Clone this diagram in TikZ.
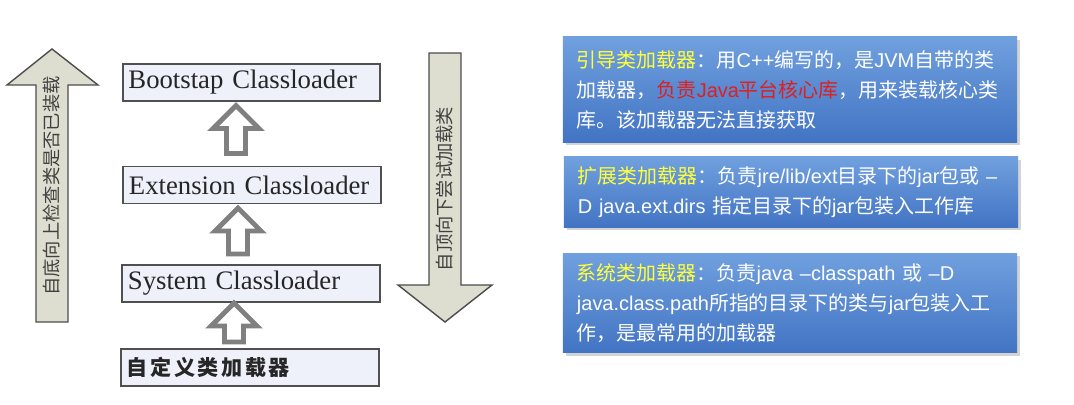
\documentclass[tikz,border=0pt]{standalone}
\usepackage{fontspec}
\setmainfont{Liberation Serif}
\newfontfamily\cjk{Noto Sans CJK SC}
\newfontfamily\cjkwide[LetterSpace=12]{Noto Sans CJK SC}
\newfontfamily\arial{Liberation Sans}
\usepackage{tikz}
\usetikzlibrary{calc, positioning, shadows}

\definecolor{loaderfill}{RGB}{238,240,250}
\definecolor{loaderline}{RGB}{80,80,80}
\definecolor{bigfill}{RGB}{222,222,208}
\definecolor{infotop}{RGB}{112,160,222}
\definecolor{infobottom}{RGB}{66,116,196}
\definecolor{labelyellow}{RGB}{255,255,60}
\definecolor{corered}{RGB}{225,30,30}

\begin{document}
\begin{tikzpicture}[x=0.025cm, y=-0.025cm,
    loader/.style={draw=loaderline, line width=1.4pt, fill=loaderfill, minimum height=26.3pt,
        text width=175pt, inner xsep=4pt, align=left, text=black!85,
        font=\fontsize{19}{22}\selectfont},
    bigarrow/.style={draw=black!70, line width=1pt, fill=bigfill},
    bigtext/.style={rotate=90, text=black!75, font=\cjk\fontsize{13}{13}\selectfont},
    hollow/.style={draw=gray, line width=3.5pt, fill=white, line join=miter},
    info/.style={top color=infotop, bottom color=infobottom, draw=none,
        drop shadow={shadow xshift=2pt, shadow yshift=-2pt, opacity=0.35},
        text width=303pt, inner xsep=10pt, align=left, text=white,
        font=\cjk\fontsize{14.2}{21.3}\selectfont},
    pics/uparrow/.style={code={
        \draw[hollow] (-9.5,0) -- (-9.5,{23-#1}) -- (-23,{23-#1}) -- (0,-#1)
            -- (23,{23-#1}) -- (9.5,{23-#1}) -- (9.5,0) -- cycle;
    }}]
    \useasboundingbox (0,0) rectangle (1074,405);

    % Bottom-up check arrow
    \draw[bigarrow] (36,322) -- (36,85) -- (7,85) -- (52,49) -- (98,85) -- (68,85) -- (68,322) -- cycle;
    \node[bigtext] (upcheck) at (52,186) {自底向上检查类是否已装载};

    % Top-down load arrow
    \draw[bigarrow] (429,53) -- (461,53) -- (461,285) -- (492,285) -- (445,322) -- (398,285) -- (429,285) -- cycle;
    \node[bigtext] (downtry) at (445,189) {自顶向下尝试加载类};

    % Loader chain
    \node[loader] (boot) at (251.5,82.5) {Bootstap Classloader};
    \node[loader] (ext) at (252,185) {Extension Classloader};
    \node[loader] (sys) at (251,283.5) {System Classloader};
    \node[loader] (self) at (250,367.5) {\cjkwide\bfseries\fontsize{15}{17}\selectfont 自定义类加载器};

    % Delegation arrows
    \pic at ($(ext.north)+(-16,-12)$) {uparrow=48};
    \pic at ($(sys.north)+(-13,-10)$) {uparrow=46};
    \pic at ($(self.north)+(-16,-6)$) {uparrow=39};

    % Descriptions
    \node[info, minimum height=74.7pt] (bootinfo) at (790,89.5)
        {{\color{labelyellow}引导类加载器}：用{\arial C++}编写的，是{\arial JVM}自带的类\\
         加载器，{\color{corered}负责{\arial Java}平台核心库}，用来装载核心类\\
         库。该加载器无法直接获取};
    \node[info, minimum height=49.8pt] (extinfo) at (791,192)
        {{\color{labelyellow}扩展类加载器}：负责{\arial jre/lib/ext}目录下的{\arial jar}包或 {\arial –}\\
         {\arial D java.ext.dirs }指定目录下的{\arial jar}包装入工作库};
    \node[info, minimum height=71.1pt] (sysinfo) at (790,303)
        {{\color{labelyellow}系统类加载器}：负责{\arial java –classpath }或 {\arial –D}\\
         {\arial java.class.path}所指的目录下的类与{\arial jar}包装入工\\
         作，是最常用的加载器};
\end{tikzpicture}
\end{document}
